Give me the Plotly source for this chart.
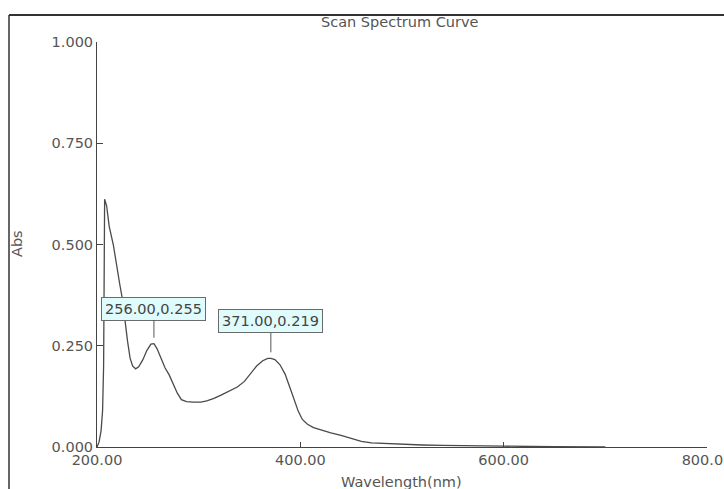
import plotly.graph_objects as go

# Scanned absorbance spectrum (wavelength in nm, absorbance)
wavelength = [200, 202, 204, 205.5, 206.5, 207, 207.5, 209.5, 212, 216, 219, 222.5,
              225, 227.5, 230, 232.5, 235, 238, 241, 245, 249, 253, 256, 259, 263,
              267, 271, 275, 279, 283, 288, 295, 302, 308, 315, 322, 330, 338, 345,
              351, 357, 363, 368, 371, 375, 380, 385, 390, 394, 398, 402, 407, 413,
              420, 430, 440, 450, 460, 470, 485, 500, 520, 540, 560, 600, 650, 700]
absorbance = [0.000, 0.012, 0.040, 0.090, 0.200, 0.400, 0.612, 0.595, 0.545, 0.500,
              0.450, 0.400, 0.365, 0.310, 0.262, 0.220, 0.200, 0.193, 0.198, 0.215,
              0.238, 0.254, 0.255, 0.243, 0.218, 0.195, 0.178, 0.157, 0.133, 0.117,
              0.112, 0.111, 0.111, 0.114, 0.120, 0.128, 0.138, 0.148, 0.162, 0.182,
              0.200, 0.213, 0.219, 0.219, 0.216, 0.203, 0.180, 0.145, 0.115, 0.088,
              0.068, 0.056, 0.048, 0.042, 0.035, 0.029, 0.021, 0.014, 0.010, 0.008,
              0.007, 0.005, 0.004, 0.003, 0.002, 0.001, 0.000]

# Labelled peaks
peak_wl = [256.00, 371.00]
peak_abs = [0.255, 0.219]

x_ticks = [200, 400, 600, 800]
y_ticks = [0.0, 0.25, 0.5, 0.75, 1.0]

FONT = "DejaVu Sans"
TEXT = "#555555"
AXIS = "#444444"
SIZE = 14.5

fig = go.Figure()
fig.add_trace(go.Scatter(
    x=wavelength, y=absorbance, mode="lines",
    line=dict(color="#4a4a4a", width=1.3),
    hoverinfo="skip", showlegend=False,
))

annotations = []
for wl, ab, ay in zip(peak_wl, peak_abs, [-35, -37]):
    annotations.append(dict(
        x=wl, y=ab, xref="x", yref="y",
        text=f"{wl:.2f},{ab:.3f}",
        showarrow=True, arrowhead=0, arrowwidth=1, arrowcolor="#555555",
        ax=0, ay=ay, standoff=6,
        bgcolor="#e0fbfb", bordercolor="#6a6a6a", borderwidth=1, borderpad=3,
        font=dict(family=FONT, size=SIZE, color="#444444"),
    ))

# chart title and axis titles
annotations.append(dict(text="Scan Spectrum Curve", xref="paper", yref="paper",
                        x=(400 - 97) / 610, y=(447 - 22) / 405, showarrow=False,
                        xanchor="center", yanchor="middle",
                        font=dict(family=FONT, size=SIZE, color=TEXT)))
annotations.append(dict(text="Wavelength(nm)", xref="paper", yref="paper",
                        x=(401 - 97) / 610, y=(447 - 482) / 405, showarrow=False,
                        xanchor="center", yanchor="middle",
                        font=dict(family=FONT, size=SIZE, color=TEXT)))
annotations.append(dict(text="Abs", xref="paper", yref="paper", textangle=-90,
                        x=(17 - 97) / 610, y=(447 - 244) / 405, showarrow=False,
                        xanchor="center", yanchor="middle",
                        font=dict(family=FONT, size=SIZE, color=TEXT)))

# outer frame (top and left edges)
fx = (9 - 97) / 610
fy = (447 - 15) / 405
shapes = [
    dict(type="line", xref="paper", yref="paper", x0=fx, y0=fy, x1=1.2, y1=fy,
         line=dict(color="#333333", width=2)),
    dict(type="line", xref="paper", yref="paper", x0=fx, y0=fy, x1=fx, y1=-0.2,
         line=dict(color="#333333", width=1.5)),
]

fig.update_layout(
    width=724, height=489,
    margin=dict(l=97, r=17, t=42, b=42, autoexpand=False),
    paper_bgcolor="white", plot_bgcolor="white",
    annotations=annotations, shapes=shapes,
    xaxis=dict(range=[200, 800], tickvals=x_ticks, tickformat=".2f",
               showgrid=False, zeroline=False, showline=True, linecolor=AXIS,
               linewidth=1, ticks="inside", ticklen=5, tickcolor=AXIS,
               ticklabeloverflow="allow",
               tickfont=dict(family=FONT, size=SIZE, color=TEXT), automargin=False),
    yaxis=dict(range=[0, 1], tickvals=y_ticks, tickformat=".3f",
               showgrid=False, zeroline=False, showline=True, linecolor=AXIS,
               linewidth=1, ticks="inside", ticklen=6, tickcolor=AXIS,
               ticklabeloverflow="allow",
               tickfont=dict(family=FONT, size=SIZE, color=TEXT), automargin=False),
)

fig.write_html("out.html")
